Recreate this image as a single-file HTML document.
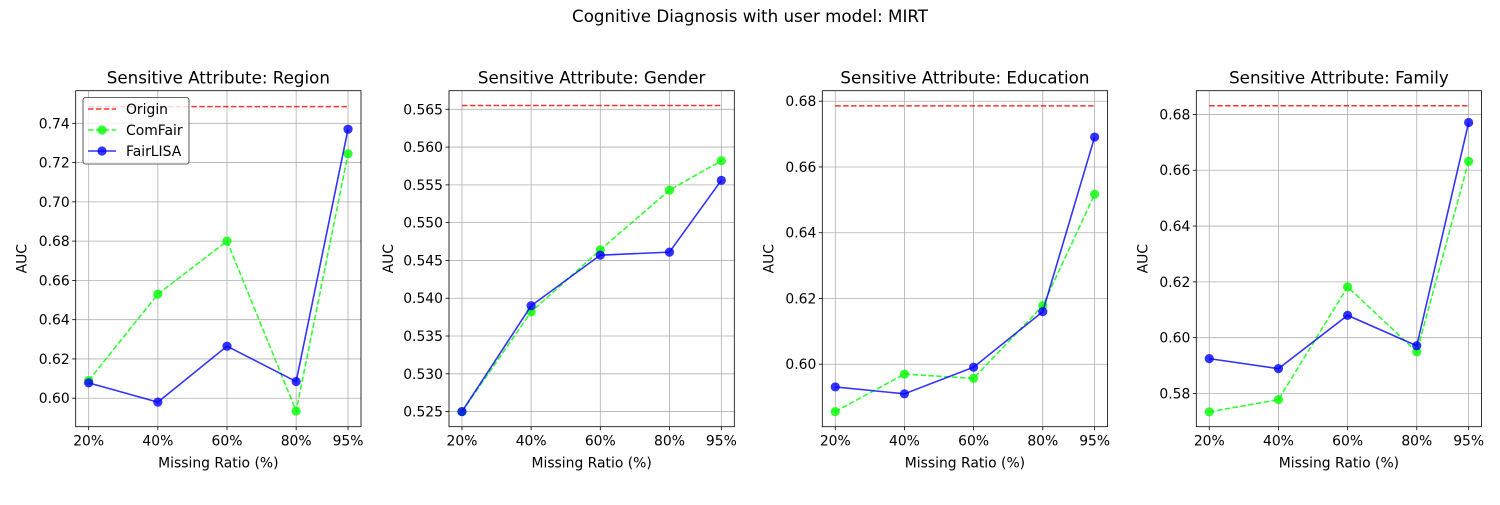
<!DOCTYPE html>
<html><head><meta charset="utf-8"><style>
body{margin:0;background:#fff;}
svg{font-family:"DejaVu Sans","Liberation Sans",sans-serif;}
</style></head><body>
<svg id="chart" width="1500" height="500" viewBox="0 0 1500 500" xmlns="http://www.w3.org/2000/svg">
<rect width="1500" height="500" fill="#fff"/>
<text x="750" y="22" text-anchor="middle" font-size="16.7">Cognitive Diagnosis with user model: MIRT</text>
</svg>
<script>
const categories = ["20%","40%","60%","80%","95%"];
const xValues = [20,40,60,80,95];
const titles = ["Region","Gender","Education","Family"];
const originVals = [0.7485,0.5655,0.6786,0.6831];
const comfairRegion = [0.609,0.653,0.680,0.5935,0.7245];
const fairlisaRegion = [0.6078,0.598,0.6265,0.6085,0.737];
const comfairGender = [0.525,0.5382,0.5464,0.5543,0.5582];
const fairlisaGender = [0.525,0.539,0.5457,0.5461,0.5556];
const comfairEducation = [0.5856,0.5970,0.5957,0.6178,0.6517];
const fairlisaEducation = [0.5931,0.5910,0.5991,0.6160,0.6691];
const comfairFamily = [0.5734,0.5778,0.6182,0.5949,0.6632];
const fairlisaFamily = [0.5925,0.5889,0.6080,0.5971,0.6771];
const yTicksRegion = [0.60,0.62,0.64,0.66,0.68,0.70,0.72,0.74];
const yTicksGender = [0.525,0.530,0.535,0.540,0.545,0.550,0.555,0.560,0.565];
const yTicksEducation = [0.60,0.62,0.64,0.66,0.68];
const yTicksFamily = [0.58,0.60,0.62,0.64,0.66,0.68];
const yLims = [[0.5855,0.7566],[0.523,0.56746],[0.581,0.6832],[0.5681,0.6885]];
const yDecimals = [2,3,2,2];

const comfair=[comfairRegion,comfairGender,comfairEducation,comfairFamily];
const fairlisa=[fairlisaRegion,fairlisaGender,fairlisaEducation,fairlisaFamily];
const yticks=[yTicksRegion,yTicksGender,yTicksEducation,yTicksFamily];
const lefts=[75.7,449,822.3,1196.3];
const W=285.3, TOP=90.7, BOT=426.7;
const svg=document.getElementById('chart');
const NS='http://www.w3.org/2000/svg';
function mk(tag,attrs,parent){const e=document.createElementNS(NS,tag);for(const k in attrs)e.setAttribute(k,attrs[k]);(parent||svg).appendChild(e);return e;}
for(let p=0;p<4;p++){
  const L=lefts[p];
  const g=mk('g',{});
  
  
  const xmin=16.25,xmax=98.75;
  const X=v=>L+(v-xmin)/(xmax-xmin)*W;
  const [y0,y1]=yLims[p];
  const Y=v=>BOT-(v-y0)/(y1-y0)*(BOT-TOP);
  xValues.forEach((v,i)=>{
    const l=mk('line',{x1:X(v),x2:X(v),y1:TOP,y2:BOT,stroke:'#b0b0b0','stroke-width':0.8},g);
    
    
    mk('line',{x1:X(v),x2:X(v),y1:BOT,y2:BOT+3.5,stroke:'#000','stroke-width':0.8},g);
    const t=mk('text',{x:X(v),y:BOT+19,'text-anchor':'middle','font-size':13.9},g);
    
    
    t.textContent=categories[i];
  });
  yticks[p].forEach(v=>{
    const l=mk('line',{x1:L,x2:L+W,y1:Y(v),y2:Y(v),stroke:'#b0b0b0','stroke-width':0.8},g);
    
    
    mk('line',{x1:L-3.5,x2:L,y1:Y(v),y2:Y(v),stroke:'#000','stroke-width':0.8},g);
    const t=mk('text',{x:L-6,y:Y(v)+5,'text-anchor':'end','font-size':13.9},g);
    
    
    t.textContent=v.toFixed(yDecimals[p]);
  });
  const o=mk('line',{x1:X(20),x2:X(95),y1:Y(originVals[p]),y2:Y(originVals[p]),stroke:'rgba(255,0,0,0.8)','stroke-width':1.5,'stroke-dasharray':'5.5,2.4'},g);
  
  
  function series(vals,color,dash,name){
    const pts=vals.map((v,i)=>X(xValues[i])+','+Y(v)).join(' ');
    const pl=mk('polyline',{points:pts,fill:'none',stroke:color,'stroke-width':1.6,'stroke-dasharray':dash||'none'},g);
    
    
    vals.forEach((v,i)=>{
      const c=mk('circle',{cx:X(xValues[i]),cy:Y(v),r:4.6,fill:color},g);
      
      
    });
  }
  series(comfair[p],'rgba(0,255,0,0.8)','5.5,2.4','comfair');
  series(fairlisa[p],'rgba(0,0,255,0.8)',null,'fairlisa');
  const fr=mk('rect',{x:L,y:TOP,width:W,height:BOT-TOP,fill:'none',stroke:'#000','stroke-width':0.8},g);
  
  
  const tt=mk('text',{x:L+W/2,y:TOP-7,'text-anchor':'middle','font-size':16.7},g);
  
  
  tt.textContent='Sensitive Attribute: '+titles[p];
  const xl=mk('text',{x:L+W/2,y:BOT+41,'text-anchor':'middle','font-size':13.9},g);
  
  
  xl.textContent='Missing Ratio (%)';
  const yx=L-(p===1?56:49), yy=(TOP+BOT)/2;
  const yl=mk('text',{x:yx,y:yy,'text-anchor':'middle','font-size':13.9,transform:'rotate(-90 '+yx+' '+yy+')'},g);
  
  
  yl.textContent='AUC';
  if(p===0){
    const lg=mk('g',{},g);
    
    
    mk('rect',{x:83,y:97.5,width:106,height:66.5,rx:2.5,fill:'rgba(255,255,255,0.8)',stroke:'#333','stroke-width':0.8},lg);
    const items=[['Origin','rgba(255,0,0,0.8)','5.5,2.4',false],['ComFair','rgba(0,255,0,0.8)','5.5,2.4',true],['FairLISA','rgba(0,0,255,0.8)','none',true]];
    items.forEach((it,i)=>{
      const yy2=109+i*21;
      mk('line',{x1:88,x2:116,y1:yy2,y2:yy2,stroke:it[1],'stroke-width':1.5,'stroke-dasharray':it[2]},lg);
      if(it[3])mk('circle',{cx:102,cy:yy2,r:4.6,fill:it[1]},lg);
      const t=mk('text',{x:126,y:yy2+5,'font-size':13.9},lg);
      
      
      t.textContent=it[0];
    });
  }
}
</script>
</body></html>
